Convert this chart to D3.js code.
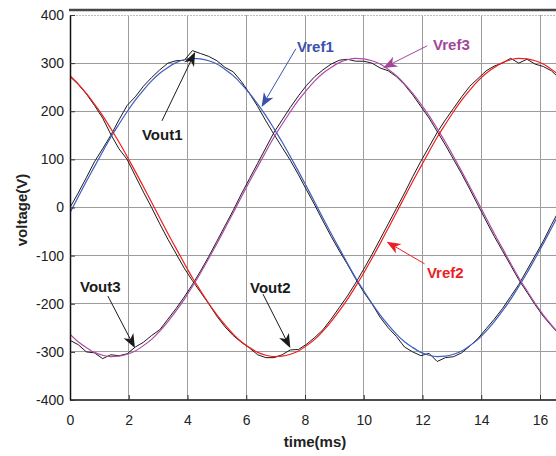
<!DOCTYPE html>
<html>
<head>
<meta charset="utf-8">
<script src="https://cdn.jsdelivr.net/npm/d3@7"></script>
<style>
  html, body { margin: 0; padding: 0; background: #fff; }
  svg { display: block; font-family: "Liberation Sans", Arial, Helvetica, sans-serif; }
</style>
</head>
<body>
<svg id="chart" width="556" height="456"></svg>
<script>
// Sample instants (ms), one every 1/60 of a 60 Hz cycle
const timeMs = [0, 0.278, 0.556, 0.833, 1.111, 1.389, 1.667, 1.944, 2.222, 2.5,
  2.778, 3.056, 3.333, 3.611, 3.889, 4.167, 4.444, 4.722, 5, 5.278,
  5.556, 5.833, 6.111, 6.389, 6.667, 6.944, 7.222, 7.5, 7.778, 8.056,
  8.333, 8.611, 8.889, 9.167, 9.444, 9.722, 10, 10.278, 10.556, 10.833,
  11.111, 11.389, 11.667, 11.944, 12.222, 12.5, 12.778, 13.056, 13.333, 13.611,
  13.889, 14.167, 14.444, 14.722, 15, 15.278, 15.556, 15.833, 16.111, 16.389, 16.667];

// Reference voltages (V)
const vref1 = [-11, 22, 54, 85, 116, 146, 173, 199, 223, 244, 263, 279, 291, 301, 307, 310, 309, 305, 298, 287,
  274, 257, 237, 215, 191, 164, 136, 106, 75, 43, 11, -22, -54, -85, -116, -146, -173, -199, -223, -244,
  -263, -279, -291, -301, -307, -310, -309, -305, -298, -287, -274, -257, -237, -215, -191, -164, -136, -106, -75, -43, -11];
const vref2 = [274, 257, 237, 215, 191, 164, 136, 106, 75, 43, 11, -22, -54, -85, -116, -146, -173, -199, -223, -244,
  -263, -279, -291, -301, -307, -310, -309, -305, -298, -287, -274, -257, -237, -215, -191, -164, -136, -106, -75, -43,
  -11, 22, 54, 85, 116, 146, 173, 199, 223, 244, 263, 279, 291, 301, 307, 310, 309, 305, 298, 287, 274];
const vref3 = [-263, -279, -291, -301, -307, -310, -309, -305, -298, -287, -274, -257, -237, -215, -191, -164, -136, -106, -75, -43,
  -11, 22, 54, 85, 116, 146, 173, 199, 223, 244, 263, 279, 291, 301, 307, 310, 309, 305, 298, 287,
  274, 257, 237, 215, 191, 164, 136, 106, 75, 43, 11, -22, -54, -85, -116, -146, -173, -199, -223, -244, -263];

// Measured output voltages (V)
const vout1 = [0, 30, 62, 95, 122, 150, 182, 212, 230, 252, 270, 286, 300, 305, 306, 326, 320, 314, 305, 291,
  282, 262, 237, 210, 180, 152, 125, 98, 68, 36, 5, -28, -60, -90, -118, -148, -176, -200, -228, -250,
  -268, -290, -300, -308, -303, -320, -312, -310, -302, -288, -272, -252, -232, -210, -185, -160, -130, -100, -70, -36, -4];
const vout2 = [272, 256, 236, 212, 186, 152, 122, 100, 66, 32, 0, -34, -66, -96, -126, -152, -176, -200, -226, -248,
  -266, -280, -292, -306, -312, -312, -306, -296, -295, -284, -270, -254, -232, -208, -184, -157, -128, -98, -66, -34,
  -2, 30, 64, 96, 126, 156, 182, 206, 230, 252, 268, 284, 294, 300, 310, 300, 308, 298, 293, 284, 268];
const vout3 = [-276, -285, -300, -302, -314, -306, -308, -304, -290, -280, -266, -254, -232, -210, -186, -160, -132, -102, -70, -38,
  -6, 28, 60, 92, 124, 156, 182, 208, 232, 254, 272, 286, 298, 306, 308, 304, 304, 300, 290, 284,
  272, 255, 234, 210, 186, 158, 130, 100, 70, 38, 5, -28, -60, -90, -120, -150, -176, -202, -226, -246, -264];

// Axis ticks
const xTicks = [0, 2, 4, 6, 8, 10, 12, 14, 16];
const yTicks = [-400, -300, -200, -100, 0, 100, 200, 300, 400];

// Callout labels: text, label anchor (ms, V), arrow start and tip (ms, V)
const calloutText  = ["Vref1", "Vref3", "Vout1", "Vref2", "Vout2", "Vout3"];
const calloutColor = ["#3a52ae", "#a4459c", "#1a1a1a", "#ee1d24", "#1a1a1a", "#1a1a1a"];
const calloutLabel = [[7.73, 323], [12.36, 327], [2.45, 140], [12.15, -147], [6.13, -178], [0.34, -176]];
const calloutFrom  = [[7.69, 330], [12.16, 336], [3.13, 180], [12.07, -117], [6.57, -180], [1.29, -184]];
const calloutTip   = [[6.52, 209], [10.66, 290], [4.26, 323], [10.78, -71], [7.50, -292], [2.21, -292]];

const svg = d3.select("#chart");
const x = d3.scaleLinear().domain([0, 16]).range([70, 540]);
const y = d3.scaleLinear().domain([-400, 400]).range([400, 15]);
const plotRight = 556;

svg.append("defs").append("clipPath").attr("id", "plotClip")
  .append("rect").attr("x", x(0)).attr("y", y(400) - 5)
  .attr("width", plotRight - x(0)).attr("height", y(-400) - y(400) + 5);

// Grid
const grid = svg.append("g").attr("shape-rendering", "crispEdges");
grid.selectAll("line.v").data(xTicks.filter(d => d > 0)).join("line")
  .attr("class", "v")
  .attr("x1", d => x(d)).attr("x2", d => x(d))
  .attr("y1", y(400)).attr("y2", y(-400))
  .attr("stroke", "#9c9c9c").attr("stroke-width", 1);
grid.selectAll("line.h").data(yTicks.filter(d => d > -400)).join("line")
  .attr("class", "h")
  .attr("x1", x(0)).attr("x2", plotRight)
  .attr("y1", d => y(d)).attr("y2", d => y(d))
  .attr("stroke", d => d === 400 ? "#bdbdbd" : "#9c9c9c").attr("stroke-width", 1)
  .attr("stroke-dasharray", d => d === 400 ? "2,1" : null);

// Frame edge along the top
svg.append("line")
  .attr("x1", x(0) - 1).attr("x2", plotRight)
  .attr("y1", 10).attr("y2", 10)
  .attr("stroke", "#474747").attr("stroke-width", 2.5);

// Waveforms
const plot = svg.append("g").attr("clip-path", "url(#plotClip)");
const smooth = d3.line().x((d, i) => x(timeMs[i])).y(d => y(d)).curve(d3.curveMonotoneX);
const rough = d3.line().x((d, i) => x(timeMs[i])).y(d => y(d));

[vout1, vout2, vout3].forEach(s => {
  plot.append("path").attr("d", rough(s))
    .attr("fill", "none").attr("stroke", "#1a1a1a").attr("stroke-width", 1);
});
[[vref1, "#3f5cc0"], [vref3, "#b04aa8"], [vref2, "#f21c1c"]].forEach(([s, c]) => {
  plot.append("path").attr("d", smooth(s))
    .attr("fill", "none").attr("stroke", c).attr("stroke-width", 1.2);
});

// Axes (plain hyphen for negative labels)
const plainNum = d => String(d);
const axisFont = g => g.selectAll("text")
  .attr("font-size", 14).attr("fill", "#222")
  .attr("font-family", "\"Liberation Sans\", Arial, sans-serif");

svg.append("g").attr("transform", `translate(0,${y(-400)})`)
  .call(d3.axisBottom(x).tickValues(xTicks).tickFormat(plainNum)
    .tickSize(-5).tickSizeOuter(0).tickPadding(15))
  .call(g => g.select(".domain").attr("d", `M${x(0)},0H${plotRight}`).attr("stroke", "#111").attr("stroke-width", 1.5))
  .call(g => g.selectAll(".tick line").attr("stroke", "#333"))
  .call(axisFont);

svg.append("g").attr("transform", `translate(${x(0)},0)`)
  .call(d3.axisLeft(y).tickValues(yTicks).tickFormat(plainNum)
    .tickSize(-5).tickSizeOuter(0).tickPadding(6))
  .call(g => g.select(".domain").attr("stroke", "#111").attr("stroke-width", 1.5))
  .call(g => g.selectAll(".tick line").attr("stroke", "#333"))
  .call(axisFont);

// Axis titles
svg.append("text")
  .attr("x", 315).attr("y", 447)
  .attr("text-anchor", "middle").attr("font-size", 15).attr("font-weight", "bold").attr("fill", "#222")
  .text("time(ms)");
svg.append("text")
  .attr("transform", "translate(27,210) rotate(-90)")
  .attr("text-anchor", "middle").attr("font-size", 15).attr("font-weight", "bold").attr("fill", "#222")
  .text("voltage(V)");

// Callouts with notched arrowheads
const notes = svg.append("g");
calloutText.forEach((t, i) => {
  const c = calloutColor[i];
  const [x1, y1] = [x(calloutFrom[i][0]), y(calloutFrom[i][1])];
  const [x2, y2] = [x(calloutTip[i][0]), y(calloutTip[i][1])];
  const len = Math.hypot(x2 - x1, y2 - y1);
  const ux = (x2 - x1) / len, uy = (y2 - y1) / len;
  const nx = -uy, ny = ux;
  const L = 14, W = 5.5, N = 4;
  notes.append("line")
    .attr("x1", x1).attr("y1", y1)
    .attr("x2", x2 - ux * (L - N)).attr("y2", y2 - uy * (L - N))
    .attr("stroke", c).attr("stroke-width", 1);
  const head = [
    [x2, y2],
    [x2 - ux * L + nx * W, y2 - uy * L + ny * W],
    [x2 - ux * (L - N), y2 - uy * (L - N)],
    [x2 - ux * L - nx * W, y2 - uy * L - ny * W]
  ];
  notes.append("path").attr("d", "M" + head.join("L") + "Z").attr("fill", c);
  notes.append("text")
    .attr("x", x(calloutLabel[i][0])).attr("y", y(calloutLabel[i][1]))
    .attr("font-size", 15).attr("font-weight", "bold").attr("fill", c)
    .text(t);
});
</script>
</body>
</html>
